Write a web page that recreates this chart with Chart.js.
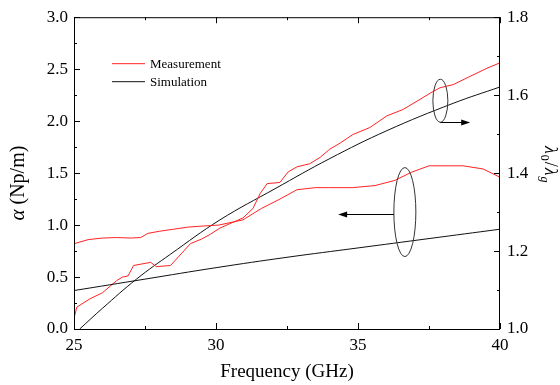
<!DOCTYPE html>
<html>
<head>
<meta charset="utf-8">
<script src="https://cdn.jsdelivr.net/npm/chart.js@4.4.1/dist/chart.umd.min.js"></script>
<style>
  body { margin: 0; background: #fff; }
</style>
</head>
<body>
<canvas id="chart" width="560" height="385"></canvas>
<script>
// values, frequency in GHz
const measAlphaFreq = [25.0, 25.5, 26.0, 26.5, 27.0, 27.35, 27.6, 28.0, 28.5, 29.0, 29.5, 30.1, 30.95, 31.6, 32.25, 32.85, 33.5, 34.0, 34.8, 35.6, 36.3, 36.9, 37.5, 38.2, 38.7, 39.4, 40.0];
const measAlpha = [0.82, 0.86, 0.875, 0.88, 0.875, 0.88, 0.92, 0.94, 0.96, 0.98, 0.99, 1.0, 1.05, 1.16, 1.25, 1.34, 1.36, 1.36, 1.36, 1.38, 1.43, 1.51, 1.57, 1.57, 1.57, 1.54, 1.46];

const simAlphaFreq = [25, 27.5, 30, 32.5, 35, 37.5, 40];
const simAlpha = [0.37, 0.48, 0.59, 0.69, 0.78, 0.87, 0.96];

const measRatioFreq = [25.0, 25.1, 25.55, 26.0, 26.5, 26.7, 26.9, 27.1, 27.7, 27.9, 28.4, 28.7, 29.1, 29.5, 29.8, 30.14, 30.95, 31.3, 31.55, 31.8, 32.25, 32.54, 32.85, 33.3, 33.66, 34.0, 34.37, 34.82, 35.42, 36.02, 36.58, 37.18, 37.54, 37.89, 38.35, 38.94, 39.54, 40.0];
const measRatio = [1.028, 1.056, 1.077, 1.093, 1.124, 1.133, 1.136, 1.163, 1.171, 1.160, 1.163, 1.187, 1.219, 1.231, 1.243, 1.259, 1.285, 1.309, 1.347, 1.373, 1.376, 1.403, 1.416, 1.424, 1.440, 1.461, 1.477, 1.499, 1.517, 1.547, 1.563, 1.589, 1.605, 1.619, 1.627, 1.648, 1.669, 1.683];

const simRatioFreq = [25.2, 26.0, 27.2, 28.4, 30.14, 32.08, 34.0, 36.02, 38.35, 40.0];
const simRatio = [1.000, 1.053, 1.128, 1.192, 1.280, 1.360, 1.437, 1.509, 1.579, 1.621];

const xTicks = [25, 30, 35, 40];
const alphaTicks = [0, 0.5, 1.0, 1.5, 2.0, 2.5, 3.0];
const ratioTicks = [1.0, 1.2, 1.4, 1.6, 1.8];
const legendLabels = ['Measurement', 'Simulation'];

const RED = 'rgb(255,35,35)';
const BLACK = '#111';
const SERIF = '"Liberation Serif", "Times New Roman", serif';

Chart.defaults.font.family = SERIF;

function pairs(xs, ys) {
  return xs.map((x, i) => ({ x: x, y: ys[i] }));
}

function setTicks(list) {
  return function (scale) {
    scale.ticks = list.map(v => ({ value: v }));
  };
}

function arrow(ctx, x1, y, x2) {
  const dir = x2 > x1 ? 1 : -1;
  ctx.beginPath();
  ctx.moveTo(x1, y);
  ctx.lineTo(x2 - dir * 6, y);
  ctx.stroke();
  ctx.beginPath();
  ctx.moveTo(x2, y);
  ctx.lineTo(x2 - dir * 9, y - 3);
  ctx.lineTo(x2 - dir * 9, y + 3);
  ctx.closePath();
  ctx.fill();
}

const framePlugin = {
  id: 'frame',
  afterDraw(chart) {
    const ctx = chart.ctx;
    const a = chart.chartArea;
    const x = chart.scales.x;
    const yl = chart.scales.yAlpha;
    const yr = chart.scales.yRatio;
    ctx.save();

    // box
    ctx.strokeStyle = '#000';
    ctx.lineWidth = 1;
    ctx.strokeRect(a.left + 0.5, a.top + 0.5, a.right - a.left - 1, a.bottom - a.top);

    // inward ticks, major + minor halfway
    ctx.beginPath();
    xTicks.forEach((v, i) => {
      const px = Math.round(x.getPixelForValue(v)) + 0.5;
      ctx.moveTo(px, a.bottom); ctx.lineTo(px, a.bottom - 6);
      ctx.moveTo(px, a.top); ctx.lineTo(px, a.top + 6);
      if (i < xTicks.length - 1) {
        const m = Math.round(x.getPixelForValue((v + xTicks[i + 1]) / 2)) + 0.5;
        ctx.moveTo(m, a.bottom); ctx.lineTo(m, a.bottom - 3);
        ctx.moveTo(m, a.top); ctx.lineTo(m, a.top + 3);
      }
    });
    alphaTicks.forEach((v, i) => {
      const py = Math.round(yl.getPixelForValue(v)) + 0.5;
      ctx.moveTo(a.left, py); ctx.lineTo(a.left + 6, py);
      if (i < alphaTicks.length - 1) {
        const m = Math.round(yl.getPixelForValue((v + alphaTicks[i + 1]) / 2)) + 0.5;
        ctx.moveTo(a.left, m); ctx.lineTo(a.left + 3, m);
      }
    });
    ratioTicks.forEach((v, i) => {
      const py = Math.round(yr.getPixelForValue(v)) + 0.5;
      ctx.moveTo(a.right, py); ctx.lineTo(a.right - 6, py);
      if (i < ratioTicks.length - 1) {
        const m = Math.round(yr.getPixelForValue((v + ratioTicks[i + 1]) / 2)) + 0.5;
        ctx.moveTo(a.right, m); ctx.lineTo(a.right - 3, m);
      }
    });
    ctx.stroke();

    // legend in the upper left of the plot
    const legColors = [RED, BLACK];
    ctx.font = '13px ' + SERIF;
    ctx.textBaseline = 'middle';
    ctx.fillStyle = '#000';
    legendLabels.forEach((t, i) => {
      const ly = a.top + 46 + i * 18;
      ctx.strokeStyle = legColors[i];
      ctx.beginPath();
      ctx.moveTo(a.left + 38, ly + 0.5);
      ctx.lineTo(a.left + 71, ly + 0.5);
      ctx.stroke();
      ctx.fillText(t, a.left + 76, ly + 1);
    });

    // ellipse + arrow annotations
    ctx.strokeStyle = '#333';
    ctx.fillStyle = '#000';
    ctx.lineWidth = 1;
    const ucx = x.getPixelForValue(37.9), ucy = yl.getPixelForValue(2.196);
    ctx.beginPath();
    ctx.ellipse(ucx, ucy, 7.5, 21.5, 0, 0, Math.PI * 2);
    ctx.stroke();
    ctx.strokeStyle = '#000';
    arrow(ctx, ucx, Math.round(ucy + 21.5) + 0.5, x.getPixelForValue(38.95));

    const lcx = x.getPixelForValue(36.65), lcy = yl.getPixelForValue(1.125);
    ctx.strokeStyle = '#333';
    ctx.beginPath();
    ctx.ellipse(lcx, lcy, 11, 44.5, 0, 0, Math.PI * 2);
    ctx.stroke();
    ctx.strokeStyle = '#000';
    arrow(ctx, lcx - 11, Math.round(lcy + 2) + 0.5, x.getPixelForValue(34.3));

    // left title: alpha (Np/m)
    ctx.save();
    ctx.translate(24, (a.top + a.bottom) / 2 + 10);
    ctx.rotate(-Math.PI / 2);
    ctx.textBaseline = 'alphabetic';
    ctx.fillStyle = '#000';
    const f1 = 'italic 21px ' + SERIF, f2 = '20px ' + SERIF;
    ctx.font = f1;
    const w1 = ctx.measureText('\u03b1').width;
    ctx.font = f2;
    const w2 = ctx.measureText(' (Np/m)').width;
    let sx = -(w1 + w2) / 2;
    ctx.font = f1;
    ctx.fillText('\u03b1', sx, 0);
    ctx.font = f2;
    ctx.fillText(' (Np/m)', sx + w1, 0);
    ctx.restore();

    // right title: lambda0 / lambda_g
    ctx.save();
    ctx.translate(545, 146);
    ctx.rotate(Math.PI / 2);
    ctx.textBaseline = 'alphabetic';
    ctx.fillStyle = '#000';
    const parts = [
      ['\u03bb', 'italic 18px ' + SERIF, 0],
      ['0', '12px ' + SERIF, 4],
      ['/', '18px ' + SERIF, 0],
      ['\u03bb', 'italic 18px ' + SERIF, 0],
      ['g', 'italic 12px ' + SERIF, 4]
    ];
    let px = 0;
    parts.forEach(p => {
      ctx.font = p[1];
      ctx.fillText(p[0], px, p[2]);
      px += ctx.measureText(p[0]).width + 1;
    });
    ctx.restore();

    ctx.restore();
  }
};

new Chart(document.getElementById('chart'), {
  type: 'line',
  data: {
    datasets: [
      { label: 'Measurement', data: pairs(measAlphaFreq, measAlpha), yAxisID: 'yAlpha', borderColor: RED, tension: 0 },
      { label: 'Simulation', data: pairs(simAlphaFreq, simAlpha), yAxisID: 'yAlpha', borderColor: BLACK, tension: 0.4 },
      { label: 'Measurement', data: pairs(measRatioFreq, measRatio), yAxisID: 'yRatio', borderColor: RED, tension: 0 },
      { label: 'Simulation', data: pairs(simRatioFreq, simRatio), yAxisID: 'yRatio', borderColor: BLACK, tension: 0.4 }
    ]
  },
  options: {
    responsive: false,
    animation: false,
    devicePixelRatio: 1,
    layout: { padding: { top: 13, left: 0, right: 0, bottom: 0 } },
    elements: {
      point: { radius: 0 },
      line: { borderWidth: 1, fill: false }
    },
    plugins: {
      legend: { display: false },
      tooltip: { enabled: false }
    },
    scales: {
      x: {
        type: 'linear',
        min: 25, max: 40,
        afterBuildTicks: setTicks(xTicks),
        afterFit: s => { s.height = 56; },
        grid: { display: false, drawTicks: false },
        border: { display: false },
        ticks: { font: { family: SERIF, size: 17 }, color: '#000', padding: 6, maxRotation: 0 },
        title: { display: true, text: 'Frequency (GHz)', font: { family: SERIF, size: 19 }, color: '#000', padding: { top: 0, bottom: 2 } }
      },
      yAlpha: {
        type: 'linear',
        position: 'left',
        min: 0, max: 3,
        afterBuildTicks: setTicks(alphaTicks),
        afterFit: s => { s.width = 74; },
        grid: { display: false, drawTicks: false },
        border: { display: false },
        ticks: { font: { family: SERIF, size: 17 }, color: '#000', padding: 6, callback: v => v.toFixed(1) }
      },
      yRatio: {
        type: 'linear',
        position: 'right',
        min: 1.0, max: 1.8,
        afterBuildTicks: setTicks(ratioTicks),
        afterFit: s => { s.width = 60; },
        grid: { display: false, drawTicks: false },
        border: { display: false },
        ticks: { font: { family: SERIF, size: 17 }, color: '#000', padding: 7, callback: v => v.toFixed(1) }
      }
    }
  },
  plugins: [framePlugin]
});
</script>
</body>
</html>
